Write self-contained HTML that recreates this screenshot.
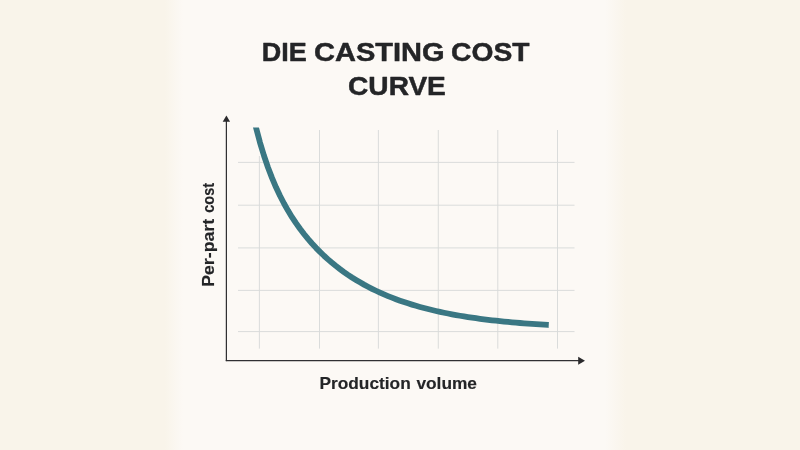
<!DOCTYPE html>
<html><head><meta charset="utf-8"><title>Die Casting Cost Curve</title>
<style>
html,body{margin:0;padding:0;}
body{width:800px;height:450px;overflow:hidden;background:#f9f4ea;font-family:"Liberation Sans",sans-serif;}
#bg{position:absolute;left:0;top:0;width:800px;height:450px;background:linear-gradient(90deg,#f9f4ea 0px,#f9f4ea 165px,#fcf9f5 183px,#fcf9f5 605px,#f9f4ea 626px,#f9f4ea 800px);}
svg{position:absolute;left:0;top:0;}
text{font-family:"Liberation Sans",sans-serif;font-weight:bold;fill:#242527;stroke:#242527;stroke-linejoin:round;}
</style></head><body>
<div id="bg"></div>
<svg width="800" height="450" viewBox="0 0 800 450">
<g stroke="#d8dad9" stroke-width="0.95" fill="none"><line x1="259.4" y1="156" x2="259.4" y2="348.6"/><line x1="319.5" y1="130" x2="319.5" y2="348.6"/><line x1="378.4" y1="130" x2="378.4" y2="348.6"/><line x1="438.3" y1="130" x2="438.3" y2="348.6"/><line x1="497.8" y1="130" x2="497.8" y2="348.6"/><line x1="557.5" y1="130" x2="557.5" y2="348.6"/><line x1="238" y1="162.4" x2="574.5" y2="162.4"/><line x1="238" y1="205.2" x2="574.5" y2="205.2"/><line x1="238" y1="247.9" x2="574.5" y2="247.9"/><line x1="238" y1="290.4" x2="574.5" y2="290.4"/><line x1="238" y1="331.6" x2="574.5" y2="331.6"/></g>
<clipPath id="cc"><rect x="240" y="127.5" width="320" height="220"/></clipPath>
<path d="M252.00 110.32 L256.00 127.54 L260.00 142.55 L264.00 155.75 L268.00 167.45 L272.00 177.89 L276.00 187.28 L280.00 195.78 L284.00 203.52 L288.00 210.61 L292.00 217.14 L296.00 223.19 L300.00 228.80 L304.00 234.03 L308.00 238.93 L312.00 243.52 L316.00 247.84 L320.00 251.90 L324.00 255.74 L328.00 259.36 L332.00 262.79 L336.00 266.04 L340.00 269.12 L344.00 272.05 L348.00 274.82 L352.00 277.46 L356.00 279.96 L360.00 282.34 L364.00 284.61 L368.00 286.76 L372.00 288.81 L376.00 290.76 L380.00 292.62 L384.00 294.39 L388.00 296.07 L392.00 297.67 L396.00 299.20 L400.00 300.65 L404.00 302.03 L408.00 303.35 L412.00 304.61 L416.00 305.80 L420.00 306.94 L424.00 308.02 L428.00 309.06 L432.00 310.04 L436.00 310.98 L440.00 311.87 L444.00 312.72 L448.00 313.53 L452.00 314.30 L456.00 315.04 L460.00 315.74 L464.00 316.40 L468.00 317.04 L472.00 317.65 L476.00 318.22 L480.00 318.77 L484.00 319.29 L488.00 319.79 L492.00 320.27 L496.00 320.72 L500.00 321.15 L504.00 321.56 L508.00 321.95 L512.00 322.32 L516.00 322.68 L520.00 323.01 L524.00 323.34 L528.00 323.64 L532.00 323.93 L536.00 324.21 L540.00 324.48 L544.00 324.73 L548.00 324.97 L548.75 325.01" fill="none" stroke="#3a7783" stroke-width="5.8" stroke-linejoin="round" clip-path="url(#cc)"/>
<g stroke="#303032" stroke-width="1.25" fill="none">
<line x1="226.4" y1="361.1" x2="226.4" y2="120"/>
<line x1="225.75" y1="360.5" x2="580" y2="360.5"/>
</g>
<g fill="#2a2a2c">
<path d="M226.4 115.5 L230.1 121.8 L222.7 121.8 Z"/>
<path d="M585 360.7 L578.2 364.7 L578.2 356.8 Z"/>
</g>
<text x="261.84" y="61.4" font-size="26.6" textLength="44.96" lengthAdjust="spacingAndGlyphs" stroke-width="0.5">DIE</text>
<text x="314.06" y="61.4" font-size="26.6" textLength="130.49" lengthAdjust="spacingAndGlyphs" stroke-width="0.5">CASTING</text>
<text x="451.09" y="61.4" font-size="26.6" textLength="78.36" lengthAdjust="spacingAndGlyphs" stroke-width="0.5">COST</text>
<text x="348.10" y="94.7" font-size="26.6" textLength="97.76" lengthAdjust="spacingAndGlyphs" stroke-width="0.5">CURVE</text>
<text x="319.52" y="388.8" font-size="16.6" textLength="91.17" lengthAdjust="spacingAndGlyphs" stroke-width="0.15">Production</text>
<text x="416.41" y="388.8" font-size="16.6" textLength="60.61" lengthAdjust="spacingAndGlyphs" stroke-width="0.15">volume</text>
<text transform="translate(213.5 285.7) rotate(-90)" x="-1.11" y="0" font-size="16.6" textLength="67.96" lengthAdjust="spacingAndGlyphs" stroke-width="0.15">Per-part</text>
<text transform="translate(213.5 212.3) rotate(-90)" x="-0.49" y="0" font-size="16.6" textLength="29.89" lengthAdjust="spacingAndGlyphs" stroke-width="0.15">cost</text>
</svg>
</body></html>
